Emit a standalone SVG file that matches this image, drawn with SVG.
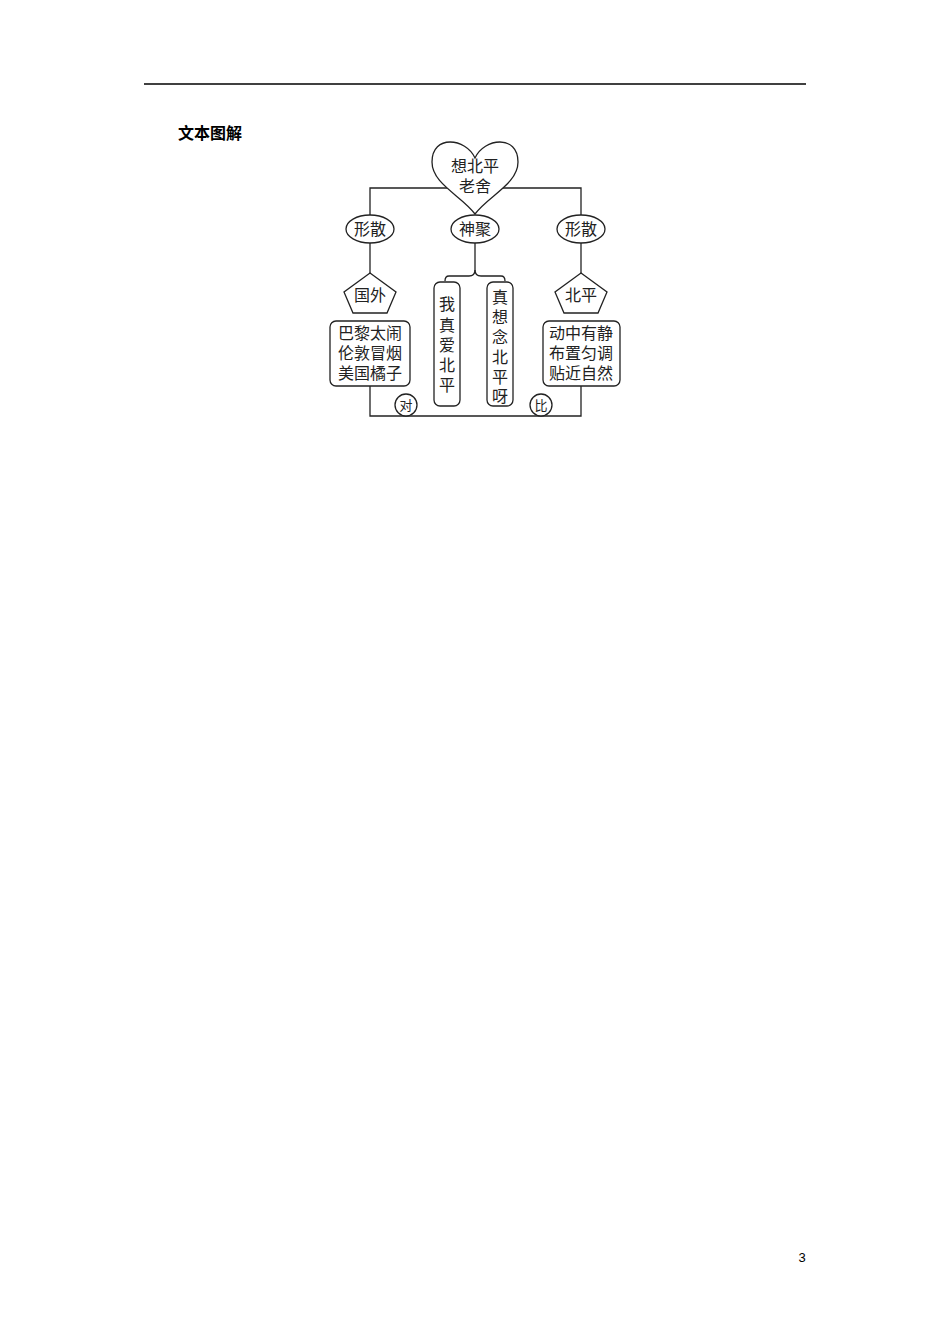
<svg xmlns="http://www.w3.org/2000/svg" width="950" height="1344" viewBox="0 0 950 1344">
<style>
.s{fill:#fff;stroke:#222;stroke-width:1.3}
.l{fill:none;stroke:#222;stroke-width:1.3}
.t{font-family:"Liberation Serif","Noto Sans CJK SC",serif;font-size:16px;fill:#222;text-anchor:middle}
.c{font-family:"Liberation Serif","Noto Sans CJK SC",serif;font-size:13px;fill:#222;text-anchor:middle}
</style>
<rect width="950" height="1344" fill="#fff"/>
<line x1="144" y1="84" x2="806" y2="84" stroke="#000" stroke-width="1.5"/>
<text x="178" y="139" font-family="Liberation Sans,'Noto Sans CJK SC',sans-serif" font-size="16" font-weight="bold" fill="#000">文本图解</text>
<g id="connectors">
<path class="l" d="M370,215 V188 H581 V215"/>
<path class="l" d="M370,243 V273"/>
<path class="l" d="M581,243 V273"/>
<path class="l" d="M475,243 V270 Q475,276 469,276 H449 Q445,276 445,281"/>
<path class="l" d="M475,270 Q475,276 481,276 H501 Q505,276 505,281"/>
<path class="l" d="M370,386 V416 H581 V386"/>
</g>
<g id="heart">
<path class="s" d="M475,158 C466,138 432,134 432,162 C432,184 462,196 475,214 C488,196 518,184 518,162 C518,134 484,138 475,158 Z"/>
<text class="t" x="475" y="172">想北平</text>
<text class="t" x="475" y="192">老舍</text>
</g>
<g id="xingsan-left"><ellipse class="s" cx="370" cy="229" rx="24" ry="14"/><text class="t" x="370" y="235">形散</text></g>
<g id="shenju"><ellipse class="s" cx="475" cy="229" rx="24" ry="14"/><text class="t" x="475" y="235">神聚</text></g>
<g id="xingsan-right"><ellipse class="s" cx="581" cy="229" rx="24" ry="14"/><text class="t" x="581" y="235">形散</text></g>
<g id="guowai"><polygon class="s" points="370,273 396,292 387,313 353,313 344,292"/><text class="t" x="370" y="301">国外</text></g>
<g id="beiping"><polygon class="s" points="581,273 607,292 598,313 564,313 555,292"/><text class="t" x="581" y="301">北平</text></g>
<g id="box-left"><rect class="s" x="330" y="321" width="80" height="65" rx="6"/>
<text class="t" x="370" y="339">巴黎太闹</text><text class="t" x="370" y="359">伦敦冒烟</text><text class="t" x="370" y="379">美国橘子</text></g>
<g id="box-right"><rect class="s" x="543" y="321" width="77" height="65" rx="6"/>
<text class="t" x="581" y="339">动中有静</text><text class="t" x="581" y="359">布置匀调</text><text class="t" x="581" y="379">贴近自然</text></g>
<g id="v-left"><rect class="s" x="434" y="282" width="26" height="124" rx="6"/>
<text class="t" x="447" y="310">我</text><text class="t" x="447" y="331">真</text><text class="t" x="447" y="351">爱</text><text class="t" x="447" y="371">北</text><text class="t" x="447" y="391">平</text></g>
<g id="v-right"><rect class="s" x="487" y="282" width="26" height="124" rx="6"/>
<text class="t" x="500" y="303">真</text><text class="t" x="500" y="323">想</text><text class="t" x="500" y="343">念</text><text class="t" x="500" y="363">北</text><text class="t" x="500" y="383">平</text><text class="t" x="500" y="402">呀</text></g>
<g id="dui"><circle class="s" cx="406" cy="405" r="11"/><text class="c" x="406" y="410">对</text></g>
<g id="bi"><circle class="s" cx="541" cy="405" r="11"/><text class="c" x="541" y="410">比</text></g>
<text x="802" y="1262" font-family="Liberation Sans,sans-serif" font-size="13" fill="#000" text-anchor="middle">3</text>
</svg>
